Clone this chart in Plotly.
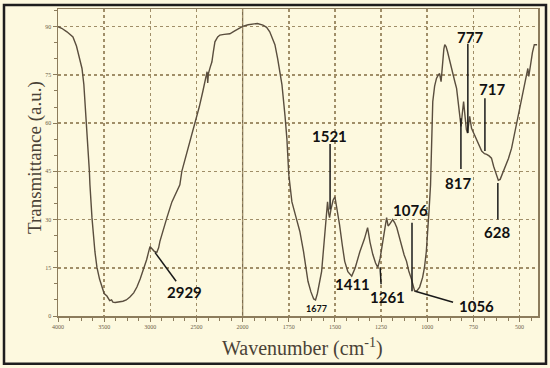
import plotly.graph_objects as go

# ---- data (wavenumber in cm-1, transmittance in a.u.) ----
wavenumber = [
    4000, 3960, 3903, 3838, 3800, 3783, 3760, 3740, 3720, 3708, 3686, 3660, 3654, 3632, 3600,
    3578, 3550, 3524, 3500, 3470, 3440, 3420, 3405, 3380, 3350, 3297, 3260, 3221, 3180, 3145,
    3110, 3080, 3040, 3004, 2985, 2960, 2929, 2910, 2896, 2860, 2820, 2766, 2740, 2712, 2680,
    2658, 2600, 2560, 2517, 2470, 2430, 2408, 2395, 2385, 2378, 2370, 2350, 2333, 2318, 2300,
    2270, 2246, 2200, 2138, 2090, 2030, 2000,
    1970, 1945, 1920, 1890, 1870, 1853, 1840, 1825, 1810, 1787, 1770, 1760, 1750, 1740, 1733,
    1712, 1690, 1670, 1646, 1630, 1615, 1605, 1595, 1572, 1555, 1545, 1540, 1534, 1529, 1522,
    1510, 1500, 1488, 1475, 1460, 1447, 1430, 1409, 1390, 1365, 1340, 1323, 1310, 1295, 1280,
    1268, 1255, 1243, 1230, 1220, 1212, 1204, 1187, 1176, 1165, 1150, 1138, 1125, 1112, 1100,
    1085, 1075, 1068, 1055, 1041, 1025, 1015, 1005, 998, 990, 982, 975, 970, 960, 950, 940,
    933, 925, 918, 910, 905, 898, 890, 875, 863, 850, 841, 830, 825, 817, 810, 803, 795, 788,
    782, 776, 770, 760, 745, 727, 715, 705, 690, 678, 665, 652, 640, 625, 615, 605, 595, 580,
    560, 543, 530, 515, 500, 490, 470, 455, 450, 440, 430, 420, 405,
]
transmittance = [
    90.0, 89.5, 88.4, 86.8, 84.0, 82.0, 80.0, 77.0, 72.0, 66.8, 58.4, 45.0, 40.8, 30.6, 20.0,
    15.1, 11.5, 9.0, 7.0, 6.2, 4.8, 5.0, 4.3, 4.2, 4.3, 4.6, 5.0, 5.9, 7.2, 9.0,
    11.5, 13.9, 17.5, 21.6, 21.0, 20.2, 19.8, 21.2, 23.2, 27.0, 30.6, 35.5, 37.0, 38.6, 40.8,
    45.1, 51.0, 55.5, 60.0, 65.0, 70.0, 73.0, 74.5, 76.0, 72.5, 75.5, 77.5, 79.0, 82.0, 85.3,
    86.8, 87.4, 87.6, 87.8, 88.6, 89.6, 90.1,
    90.6, 90.9, 91.0, 90.5, 89.8, 88.4, 86.8, 84.4, 80.0, 72.0, 62.0, 55.0, 44.0, 38.0, 35.5,
    31.0, 26.3, 20.0, 10.8, 7.5, 5.3, 5.0, 7.0, 13.9, 25.3, 33.6, 35.5, 32.0, 30.6, 33.0,
    36.0, 37.1, 33.0, 28.4, 22.0, 17.0, 13.8, 12.4, 15.0, 20.0, 24.0, 27.5, 23.0, 19.2, 16.5,
    15.1, 18.0, 22.2, 27.0, 30.6, 28.0, 28.5, 30.0, 29.0, 27.5, 24.0, 21.6, 19.0, 17.0, 14.0,
    11.4, 9.0, 7.7, 7.9, 9.0, 12.0, 15.1, 20.0, 25.3, 33.0, 40.8, 55.0, 66.7, 71.5, 73.9, 75.0,
    75.4, 72.9, 78.0, 83.0, 84.4, 83.8, 82.2, 78.5, 75.0, 72.8, 70.8, 66.0, 62.7, 59.0, 63.0, 66.7, 62.0, 58.0,
    56.9, 59.0, 62.1, 58.4, 56.5, 54.4, 52.5, 51.3, 50.5, 50.3, 49.8, 49.1, 46.5, 44.2, 42.2, 42.5, 44.0, 46.0,
    49.0, 52.2, 56.0, 60.5, 64.0, 66.7, 73.0, 77.0, 74.5, 79.0, 82.0, 84.4, 84.4,
]
x_tick_values = [4000, 3500, 3000, 2500, 2000, 1750, 1500, 1250, 1000, 750, 500]
x_tick_labels = ["4000", "3500", "3000", "2500", "2000", "1750", "1500", "1250", "1000", "750", "500"]
y_tick_values = [0, 15, 30, 45, 60, 75, 90]
y_tick_labels = ["0", "15", "30", "45", "60", "75", "90"]
peak_labels = ["2929", "1677", "1521", "1411", "1261", "1076", "1056", "777", "717", "817", "628"]


def wn_axis(w):
    """Instrument x-scale: 500 cm-1 per division above 2000, 250 cm-1 per division below."""
    return (4000 - w) / 500 if w >= 2000 else 4 + (2000 - w) / 250


xu = [wn_axis(w) for w in wavenumber]

BG = "#FDF9DF"
FRAME = "#8C7C5C"
GRID = "#A08E68"
LINE = "#5A4E3E"

fig = go.Figure()
fig.add_trace(go.Scatter(x=xu, y=transmittance, mode="lines",
                         line=dict(color=LINE, width=1.4), hoverinfo="skip", showlegend=False))

fig.update_layout(
    width=550, height=368,
    margin=dict(l=58, r=12, t=7, b=52),
    paper_bgcolor=BG, plot_bgcolor=BG,
    showlegend=False,
    xaxis=dict(
        range=[0, 10.4],
        tickvals=[wn_axis(w) for w in x_tick_values], ticktext=x_tick_labels,
        tickfont=dict(size=6, color="#6A5E48", family="Liberation Serif"),
        showgrid=True, gridcolor=GRID, gridwidth=1.6, griddash="dot",
        showline=True, linecolor=FRAME, linewidth=1.5, mirror=True,
        ticks="outside", ticklen=4, tickcolor=FRAME,
        minor=dict(dtick=0.25, ticks="outside", ticklen=3, tickcolor=FRAME, showgrid=False),
        zeroline=False, fixedrange=True,
    ),
    yaxis=dict(
        range=[0, 95.5],
        tickvals=y_tick_values, ticktext=y_tick_labels,
        tickfont=dict(size=6, color="#6A5E48", family="Liberation Serif"),
        showgrid=True, gridcolor=GRID, gridwidth=1.6, griddash="dot",
        showline=True, linecolor=FRAME, linewidth=1.5, mirror=True,
        ticks="outside", ticklen=4, tickcolor=FRAME,
        minor=dict(dtick=5, ticks="outside", ticklen=3, tickcolor=FRAME, showgrid=False),
        zeroline=False, fixedrange=True,
    ),
)

# solid divider at 2000 cm-1 (scale change)
fig.add_shape(type="line", xref="x", yref="paper", x0=wn_axis(2000), x1=wn_axis(2000), y0=0, y1=1,
              line=dict(color="#7E6E50", width=1.3), layer="below")

# outer black border
fig.add_shape(type="rect", xref="paper", yref="paper",
              x0=(4 - 58) / 480, x1=(546 - 58) / 480, y0=(316 - 364) / 309, y1=(316 - 3) / 309,
              line=dict(color="#1E1E1E", width=2.5), fillcolor="rgba(0,0,0,0)")

# axis titles
fig.add_annotation(text="Transmittance (a.u.)", xref="paper", yref="paper",
                   x=(22 - 58) / 480, y=(316 - 157) / 309, textangle=-90, showarrow=False,
                   font=dict(family="Liberation Serif", size=19, color="#4A4236"))
fig.add_annotation(text="Wavenumber (cm<sup>-1</sup>)", xref="paper", yref="paper",
                   x=(302 - 58) / 480, y=(316 - 362) / 309, yanchor="bottom", showarrow=False,
                   font=dict(family="Liberation Serif", size=20, color="#4A4236"))

# peak labels: (label, text u, text T, leader line [u0, T0, u1, T1] or None, size)
label_layout = [
    (peak_labels[0], 2.75, 7.4, (2.10, 19.8, 2.56, 10.8), 15),
    (peak_labels[1], 5.61, 2.2, None, 9),
    (peak_labels[2], 5.89, 55.9, (5.895, 53.5, 5.895, 33.1), 15),
    (peak_labels[3], 6.39, 9.9, None, 15),
    (peak_labels[4], 7.13, 5.9, (6.98, 15.1, 7.00, 9.9), 15),
    (peak_labels[5], 7.63, 33.1, (7.67, 29.0, 7.67, 7.7), 15),
    (peak_labels[6], 9.06, 3.1, (7.74, 7.7, 8.56, 4.3), 15),
    (peak_labels[7], 8.93, 86.8, (8.88, 84.7, 8.88, 56.9), 15),
    (peak_labels[8], 9.40, 70.5, (9.25, 67.7, 9.25, 51.3), 15),
    (peak_labels[9], 8.67, 41.4, (8.73, 61.5, 8.73, 45.7), 15),
    (peak_labels[10], 9.51, 26.0, (9.53, 41.4, 9.53, 30.0), 15),
]
for text, tx, ty, ln, size in label_layout:
    fig.add_annotation(text=f"<b>{text}</b>", x=tx, y=ty, xref="x", yref="y", showarrow=False,
                       font=dict(family="Lato", size=size, color="#111111"))
    if ln:
        fig.add_shape(type="line", xref="x", yref="y", x0=ln[0], y0=ln[1], x1=ln[2], y1=ln[3],
                      line=dict(color="#1A1A1A", width=1.5))

fig.write_html("out.html", config={"displayModeBar": False, "staticPlot": True})

# remove the browser's default body margin so the 550x368 figure sits at the page origin
with open("out.html", encoding="utf-8") as f:
    html = f.read()
html = html.replace("<body>", '<body style="margin:0;padding:0;overflow:hidden;">', 1)
with open("out.html", "w", encoding="utf-8") as f:
    f.write(html)
